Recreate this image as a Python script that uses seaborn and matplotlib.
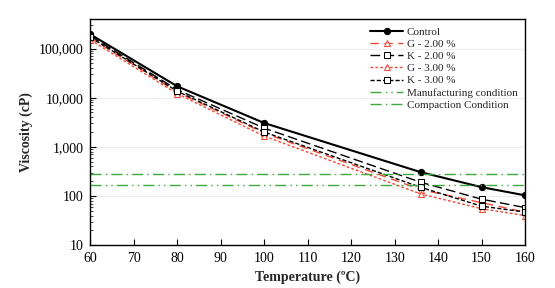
import matplotlib
matplotlib.use("Agg")
import matplotlib.pyplot as plt
import matplotlib.ticker as mticker
import seaborn as sns
import pandas as pd

temps = [60, 80, 100, 136, 150, 160]
control = [194000, 17000, 3050, 305, 151, 103]
g_200 = [165000, 13000, 1900, 135, 73, 47]
k_200 = [180000, 14500, 2400, 190, 86, 58]
g_300 = [150000, 12000, 1650, 110, 55, 40]
k_300 = [170000, 13500, 2000, 150, 62, 47]
manufacturing = 170
compaction = 280
hline_x = [60, 160]

sns.set_theme(style="white")
plt.rcParams["font.family"] = ["Liberation Serif", "DejaVu Serif"]

fig = plt.figure(figsize=(5.55, 2.88), dpi=100)
ax = fig.add_axes([0.163, 0.149, 0.783, 0.785])

red = "#EE4B36"
green = "#3DAA3D"

def draw(y, label, **kw):
    df = pd.DataFrame({"T": temps, "V": y})
    sns.lineplot(data=df, x="T", y="V", ax=ax, label=label, **kw)

draw(control, "Control", color="black", linewidth=1.5, marker="o",
     markersize=4.5, markerfacecolor="black", markeredgecolor="black")
draw(g_200, "G - 2.00 %", color=red, linewidth=1.0, linestyle=(0, (6, 4)),
     marker="^", markersize=4.5, markerfacecolor="white", markeredgecolor=red)
draw(k_200, "K - 2.00 %", color="black", linewidth=1.0, linestyle=(0, (7, 3)),
     marker="s", markersize=4.5, markerfacecolor="white", markeredgecolor="black")
draw(g_300, "G - 3.00 %", color=red, linewidth=1.0, linestyle=(0, (2, 1.5)),
     marker="^", markersize=4.5, markerfacecolor="white", markeredgecolor=red)
draw(k_300, "K - 3.00 %", color="black", linewidth=1.0, linestyle=(0, (3, 1.5)),
     marker="s", markersize=4.5, markerfacecolor="white", markeredgecolor="black")

sns.lineplot(x=hline_x, y=[manufacturing] * 2, ax=ax, color=green, linewidth=1.0,
             linestyle=(0, (8, 3, 1, 3, 1, 3)), label="Manufacturing condition")
sns.lineplot(x=hline_x, y=[compaction] * 2, ax=ax, color=green, linewidth=1.0,
             linestyle=(0, (8, 3, 1, 3)), label="Compaction Condition")

ax.set_yscale("log")
ax.set_ylim(10, 400000)
ax.set_xlim(60, 160)
ax.set_xticks(range(60, 161, 10))
ax.yaxis.set_major_locator(mticker.LogLocator(base=10, numticks=10))
ax.yaxis.set_minor_locator(mticker.LogLocator(base=10, subs=range(2, 10), numticks=20))
ax.yaxis.set_major_formatter(mticker.FuncFormatter(lambda v, p: f"{int(round(v)):,}"))
ax.yaxis.set_minor_formatter(mticker.NullFormatter())

ax.grid(True, axis="y", which="major", color="#EDEDED", linewidth=0.8)
for s in ax.spines.values():
    s.set_color("black")
    s.set_linewidth(1.0)

ax.tick_params(axis="both", which="major", direction="in", length=4, width=0.8,
               labelsize=10, colors="black", pad=5)
ax.tick_params(axis="y", which="minor", direction="in", length=2.5, width=0.6,
               left=True)
ax.tick_params(axis="x", which="both", bottom=True, top=False)
ax.tick_params(axis="y", which="both", left=True, right=False)

ax.set_xlabel("Temperature (ºC)", fontsize=10, fontweight="bold", labelpad=4)
ax.set_ylabel("Viscosity (cP)", fontsize=10, fontweight="bold", labelpad=4)

leg = ax.legend(loc="upper right", fontsize=8, frameon=False, handlelength=3.0,
                handletextpad=0.3, labelspacing=0.22, borderaxespad=0.3)

fig.savefig("out.png", dpi=100)
